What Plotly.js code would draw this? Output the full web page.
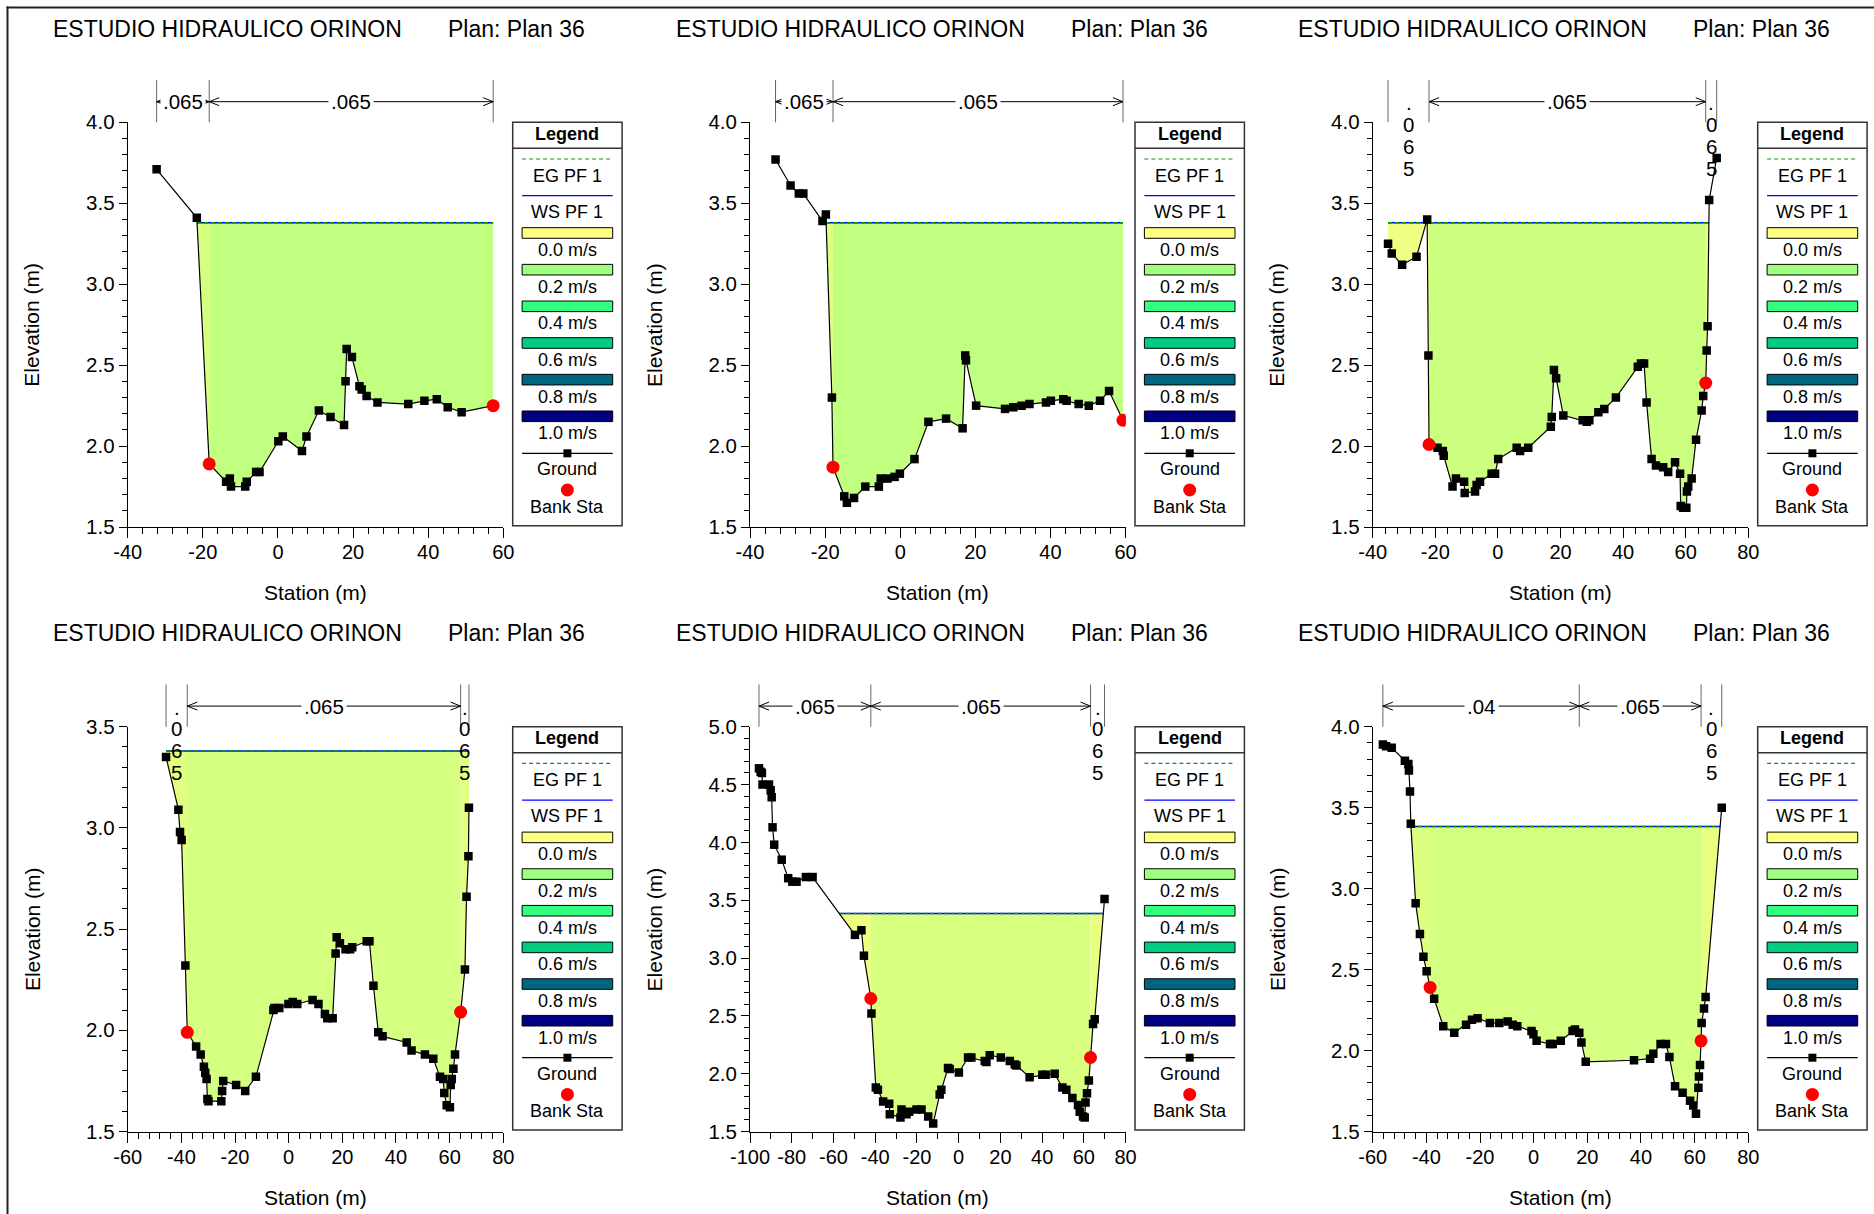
<!DOCTYPE html>
<html><head><meta charset="utf-8">
<script src="https://cdn.plot.ly/plotly-3.0.1.min.js"></script>
<style>html,body{margin:0;padding:0;background:#fff}#chart{width:1874px;height:1214px}</style>
</head><body><div id="chart"></div>
<script>
// ================= DATA =================
const titleText = "ESTUDIO HIDRAULICO ORINON";
const planText = "Plan: Plan 36";
const xAxisTitle = "Station (m)";
const yAxisTitle = "Elevation (m)";
const legendHeader = "Legend";
const legendLabels = ["EG PF 1", "WS PF 1", "0.0 m/s", "0.2 m/s", "0.4 m/s", "0.6 m/s", "0.8 m/s", "1.0 m/s", "Ground", "Bank Sta"];

// Panel 1 (station, elevation)
const p1Ground = [[-32.3,3.71],[-21.6,3.41],[-18.3,1.89],[-13.8,1.78],[-12.8,1.80],[-12.5,1.75],[-8.7,1.75],[-8.3,1.78],[-5.8,1.84],[-4.9,1.84],[0.1,2.03],[1.3,2.06],[6.4,1.97],[7.6,2.06],[10.9,2.22],[14.0,2.18],[17.6,2.13],[18.0,2.40],[18.3,2.60],[19.7,2.55],[21.7,2.37],[22.3,2.35],[23.6,2.31],[26.5,2.27],[34.7,2.26],[39.0,2.28],[42.3,2.29],[45.2,2.24],[48.9,2.21],[57.3,2.25]];
const p1Banks = [-18.3, 57.3];
const p1WS = 3.38;
const p1NSta = [-32.3, -18.3, 57.3];
const p1NVal = [".065", ".065"];
const p1XRange = [-40, 60], p1YRange = [1.5, 4.0];

// Panel 2
const p2Ground = [[-33.2,3.77],[-29.2,3.61],[-27.0,3.56],[-25.8,3.56],[-20.7,3.39],[-19.8,3.43],[-18.2,2.30],[-17.9,1.87],[-14.9,1.69],[-14.2,1.65],[-12.3,1.68],[-9.3,1.75],[-5.7,1.75],[-5.2,1.80],[-3.4,1.80],[-1.5,1.81],[-0.1,1.83],[3.8,1.92],[7.5,2.15],[12.2,2.17],[16.6,2.11],[17.3,2.56],[17.5,2.53],[20.2,2.25],[27.9,2.23],[30.1,2.24],[32.3,2.25],[34.4,2.26],[38.8,2.27],[40.1,2.28],[43.4,2.29],[44.3,2.28],[47.5,2.26],[50.2,2.25],[53.2,2.28],[55.6,2.34],[59.3,2.16]];
const p2Banks = [-17.9, 59.3];
const p2WS = 3.38;
const p2NSta = [-33.2, -17.9, 59.3];
const p2NVal = [".065", ".065"];
const p2XRange = [-40, 60], p2YRange = [1.5, 4.0];

// Panel 3
const p3Ground = [[-35.1,3.25],[-33.9,3.19],[-30.6,3.12],[-26.0,3.17],[-22.6,3.40],[-22.2,2.56],[-22.0,2.01],[-19.3,1.99],[-17.6,1.97],[-17.3,1.94],[-14.5,1.75],[-13.4,1.80],[-10.8,1.78],[-10.6,1.71],[-7.3,1.72],[-6.8,1.76],[-5.7,1.78],[-2.0,1.83],[-0.9,1.83],[0.1,1.92],[6.0,1.99],[7.1,1.97],[9.7,1.99],[16.9,2.12],[17.2,2.18],[17.9,2.47],[18.6,2.42],[20.9,2.19],[27.1,2.16],[28.4,2.15],[29.2,2.16],[32.1,2.21],[34.0,2.23],[37.7,2.30],[44.7,2.49],[45.7,2.51],[46.7,2.51],[47.5,2.27],[49.1,1.92],[50.5,1.88],[52.8,1.87],[54.4,1.84],[56.6,1.90],[58.2,1.83],[58.4,1.63],[59.2,1.62],[60.2,1.62],[60.4,1.72],[60.8,1.75],[61.9,1.80],[63.3,2.04],[65.1,2.22],[65.6,2.31],[66.4,2.39],[66.7,2.59],[67.0,2.74],[67.5,3.52],[69.9,3.78]];
const p3Banks = [-22.0, 66.4];
const p3WS = 3.38;
const p3NSta = [-35.1, -22.0, 66.4, 69.9];
const p3NVal = [".065", ".065", ".065"];
const p3XRange = [-40, 80], p3YRange = [1.5, 4.0];

// Panel 4
const p4Ground = [[-45.7,3.35],[-41.1,3.09],[-40.5,2.98],[-39.9,2.94],[-38.5,2.32],[-37.8,1.99],[-34.5,1.92],[-32.8,1.88],[-31.6,1.82],[-31.1,1.79],[-30.6,1.76],[-30.3,1.66],[-29.9,1.65],[-25.1,1.65],[-24.8,1.70],[-24.4,1.75],[-19.6,1.73],[-16.2,1.70],[-12.2,1.77],[-5.7,2.10],[-5.3,2.11],[-3.5,2.11],[-0.1,2.13],[1.5,2.14],[3.2,2.13],[8.9,2.15],[11.1,2.13],[13.5,2.08],[14.4,2.06],[16.4,2.06],[17.5,2.38],[17.9,2.46],[19.1,2.43],[21.2,2.40],[22.9,2.40],[23.7,2.41],[29.1,2.44],[30.1,2.44],[31.6,2.22],[33.4,1.99],[35.0,1.97],[44.0,1.94],[45.8,1.90],[50.8,1.88],[53.9,1.86],[56.4,1.77],[57.6,1.76],[58.0,1.69],[58.9,1.63],[60.1,1.62],[60.4,1.73],[60.8,1.76],[61.4,1.81],[62.0,1.88],[64.1,2.09],[65.7,2.30],[66.3,2.66],[67.0,2.86],[67.2,3.10]];
const p4Banks = [-37.8, 64.1];
const p4WS = 3.38;
const p4NSta = [-45.7, -37.8, 64.1, 67.2];
const p4NVal = [".065", ".065", ".065"];
const p4XRange = [-60, 80], p4YRange = [1.5, 3.5];

// Panel 5
const p5Ground = [[-95.7,4.64],[-94.9,4.61],[-94.3,4.60],[-94.0,4.50],[-90.9,4.50],[-90.1,4.45],[-89.6,4.39],[-89.2,4.13],[-88.4,3.98],[-84.8,3.85],[-81.7,3.69],[-79.7,3.66],[-77.7,3.66],[-73.2,3.70],[-70.0,3.70],[-49.7,3.20],[-46.6,3.24],[-45.4,3.02],[-42.1,2.65],[-41.8,2.52],[-39.7,1.88],[-38.7,1.86],[-36.2,1.76],[-33.3,1.74],[-33.0,1.65],[-27.9,1.62],[-27.4,1.69],[-25.0,1.65],[-23.7,1.67],[-20.2,1.69],[-17.8,1.69],[-14.6,1.63],[-12.2,1.57],[-9.1,1.82],[-8.3,1.86],[-5.1,2.05],[-4.3,2.04],[0.1,2.01],[4.5,2.14],[6.1,2.14],[12.5,2.11],[13.3,2.10],[14.9,2.16],[20.2,2.14],[24.5,2.11],[26.9,2.08],[27.7,2.07],[34.0,1.97],[40.1,1.99],[41.7,1.99],[46.0,2.00],[49.7,1.88],[51.6,1.86],[54.5,1.79],[57.2,1.73],[58.0,1.67],[59.6,1.63],[60.4,1.62],[60.8,1.75],[61.5,1.83],[62.4,1.94],[63.2,2.14],[64.4,2.43],[65.2,2.47],[69.9,3.51]];
const p5Banks = [-42.1, 63.2];
const p5WS = 3.385;
const p5NSta = [-95.7, -42.1, 63.2, 69.9];
const p5NVal = [".065", ".065", ".065"];
const p5XRange = [-100, 80], p5YRange = [1.5, 5.0];

// Panel 6
const p6Ground = [[-56.2,3.89],[-55.0,3.88],[-52.9,3.87],[-48.0,3.79],[-46.7,3.77],[-46.5,3.73],[-46.1,3.60],[-45.8,3.40],[-44.0,2.91],[-42.4,2.72],[-41.1,2.58],[-39.9,2.49],[-38.6,2.39],[-37.1,2.32],[-33.7,2.15],[-29.6,2.11],[-25.2,2.16],[-23.0,2.19],[-20.9,2.20],[-16.3,2.17],[-12.8,2.17],[-9.7,2.18],[-7.8,2.16],[-6.1,2.15],[-0.8,2.12],[-0.1,2.10],[1.1,2.06],[6.1,2.04],[7.1,2.04],[10.1,2.06],[14.5,2.12],[15.4,2.13],[17.0,2.11],[17.8,2.05],[19.4,1.93],[37.4,1.94],[43.4,1.95],[44.6,1.98],[47.3,2.04],[49.3,2.04],[50.6,1.96],[52.7,1.78],[55.5,1.74],[58.3,1.69],[59.5,1.66],[60.5,1.61],[61.4,1.77],[61.6,1.84],[62.0,1.91],[62.4,2.06],[62.6,2.17],[63.5,2.26],[64.1,2.33],[70.1,3.50]];
const p6Banks = [-38.6, 62.4];
const p6WS = 3.384;
const p6NSta = [-56.2, 17.0, 62.4, 70.1];
const p6NVal = [".04", ".065", ".065"];
const p6XRange = [-60, 80], p6YRange = [1.5, 4.0];

// ================= STYLE / LAYOUT =================
const FONT = "Liberation Sans, Arial, sans-serif";
const W = 1874, H = 1214;
const px2x = p => p / W;
const px2y = p => 1 - p / H;
const colLeft = [127.7, 750.0, 1372.7];
const rowTop = [122.3, 726.7];
const plotW = 375.6, plotH = 404.8;
const velColors = ['#ffff80', '#a0ff80', '#33ff80', '#00cc80', '#006680', '#000080'];
const panelStyle = [
  {fills: ['#d6ff80', '#c0ff80', '#d6ff80'], xMinor: 4},
  {fills: ['#dcff80', '#c0ff80', '#dcff80'], xMinor: 4},
  {fills: ['#eeff84', '#ccff80', '#e6ff80'], xMinor: 4},
  {fills: ['#e2ff80', '#d4ff80', '#e2ff80'], xMinor: 4},
  {fills: ['#eeff80', '#d8ff80', '#e8ff80'], xMinor: 10},
  {fills: ['#dcff80', '#d4ff80', '#e6ff80'], xMinor: 4}
];
const panels = [
  {g: p1Ground, banks: p1Banks, ws: p1WS, nSta: p1NSta, nVal: p1NVal, xr: p1XRange, yr: p1YRange},
  {g: p2Ground, banks: p2Banks, ws: p2WS, nSta: p2NSta, nVal: p2NVal, xr: p2XRange, yr: p2YRange},
  {g: p3Ground, banks: p3Banks, ws: p3WS, nSta: p3NSta, nVal: p3NVal, xr: p3XRange, yr: p3YRange},
  {g: p4Ground, banks: p4Banks, ws: p4WS, nSta: p4NSta, nVal: p4NVal, xr: p4XRange, yr: p4YRange},
  {g: p5Ground, banks: p5Banks, ws: p5WS, nSta: p5NSta, nVal: p5NVal, xr: p5XRange, yr: p5YRange},
  {g: p6Ground, banks: p6Banks, ws: p6WS, nSta: p6NSta, nVal: p6NVal, xr: p6XRange, yr: p6YRange}
];

function interpY(gx, gy, x) {
  if (x <= gx[0]) return gy[0];
  for (let i = 0; i < gx.length - 1; i++) {
    if (x >= gx[i] && x <= gx[i + 1]) {
      const dx = gx[i + 1] - gx[i];
      if (dx === 0) return gy[i + 1];
      return gy[i] + (gy[i + 1] - gy[i]) * (x - gx[i]) / dx;
    }
  }
  return gy[gy.length - 1];
}
function wetPolygon(gx, gy, ws, a, b) {
  const px = [], py = [];
  const add = (x, y) => { px.push(x); py.push(Math.min(y, ws)); };
  add(a, interpY(gx, gy, a));
  for (let i = 0; i < gx.length; i++) {
    if (gx[i] > a && gx[i] < b) add(gx[i], gy[i]);
    if (i < gx.length - 1) {
      const y0 = gy[i], y1 = gy[i + 1];
      if ((y0 - ws) * (y1 - ws) < 0) {
        const xc = gx[i] + (ws - y0) / (y1 - y0) * (gx[i + 1] - gx[i]);
        if (xc > a && xc < b) add(xc, ws);
      }
    }
  }
  add(b, interpY(gx, gy, b));
  px.push(b, a, a); py.push(ws, ws, py[0]);
  return {x: px, y: py};
}
function wetExtent(gx, gy, ws) {
  let lo = Infinity, hi = -Infinity;
  for (let i = 0; i < gx.length; i++) {
    if (gy[i] < ws) { lo = Math.min(lo, gx[i]); hi = Math.max(hi, gx[i]); }
    if (i < gx.length - 1 && (gy[i] - ws) * (gy[i + 1] - ws) < 0) {
      const xc = gx[i] + (ws - gy[i]) / (gy[i + 1] - gy[i]) * (gx[i + 1] - gx[i]);
      lo = Math.min(lo, xc); hi = Math.max(hi, xc);
    }
  }
  return [lo, hi];
}
function textW(s, size) {
  let w = 0;
  for (const c of s) w += (c === '.' ? 0.278 : 0.556);
  return w * size;
}
// tick values from an axis range and step; labels use a plain hyphen minus
function tickList(range, step) {
  const out = [];
  const n0 = Math.ceil(range[0] / step - 1e-9), n1 = Math.floor(range[1] / step + 1e-9);
  for (let n = n0; n <= n1; n++) out.push(Math.round(n * step * 1000) / 1000);
  return out;
}

const traces = [], shapes = [], annotations = [];
const layout = {
  width: W, height: H, margin: {l: 0, r: 0, t: 0, b: 0, pad: 0},
  paper_bgcolor: '#fff', plot_bgcolor: '#fff', showlegend: false,
  font: {family: FONT, size: 20, color: '#000'},
  shapes: shapes, annotations: annotations
};
const txt = (o) => Object.assign({showarrow: false, xref: 'paper', yref: 'paper', font: {family: FONT, size: 20, color: '#000'}}, o);

panels.forEach((p, i) => {
  const k = i + 1;
  const sfx = k === 1 ? '' : String(k);
  const xa = 'x' + sfx, ya = 'y' + sfx;
  const col = i % 3, row = Math.floor(i / 3);
  const left = colLeft[col], top = rowTop[row];
  const st = panelStyle[i];
  const gx = p.g.map(d => d[0]), gy = p.g.map(d => d[1]);

  const xt = tickList(p.xr, 20), yt = tickList(p.yr, 0.5);
  layout['xaxis' + sfx] = {
    domain: [px2x(left), px2x(left + plotW)], anchor: ya, range: p.xr, fixedrange: true,
    showline: true, linecolor: '#000', linewidth: 1, mirror: false,
    ticks: 'outside', ticklen: 10, tickwidth: 1, tickcolor: '#000',
    tickmode: 'array', tickvals: xt, ticktext: xt.map(v => String(v)), ticklabelstandoff: -3,
    minor: {tickmode: 'linear', dtick: st.xMinor, tick0: 0, ticks: 'outside', ticklen: 6, tickwidth: 1, tickcolor: '#000', showgrid: false},
    showgrid: false, zeroline: false, tickfont: {family: FONT, size: 20, color: '#000'}
  };
  layout['yaxis' + sfx] = {
    domain: [px2y(top + plotH), px2y(top)], anchor: xa, range: p.yr, fixedrange: true,
    showline: true, linecolor: '#000', linewidth: 1, mirror: false,
    ticks: 'outside', ticklen: 8, tickwidth: 1, tickcolor: '#000',
    tickmode: 'array', tickvals: yt, ticktext: yt.map(v => v.toFixed(1)),
    minor: {tickmode: 'linear', dtick: 0.1, tick0: 0, ticks: 'outside', ticklen: 5, tickwidth: 1, tickcolor: '#000', showgrid: false},
    showgrid: false, zeroline: false, tickfont: {family: FONT, size: 20.5, color: '#000'}
  };

  // wetted area, coloured by subsection
  const subs = [[gx[0], p.banks[0]], [p.banks[0], p.banks[1]], [p.banks[1], gx[gx.length - 1]]];
  subs.forEach((s, j) => {
    if (s[1] - s[0] < 1e-6) return;
    const poly = wetPolygon(gx, gy, p.ws, s[0], s[1]);
    traces.push({x: poly.x, y: poly.y, xaxis: xa, yaxis: ya, type: 'scatter', mode: 'lines',
      line: {width: 0}, fill: 'toself', fillcolor: st.fills[j], hoverinfo: 'skip', showlegend: false});
  });
  const ext = wetExtent(gx, gy, p.ws);
  traces.push({x: ext, y: [p.ws, p.ws], xaxis: xa, yaxis: ya, type: 'scatter', mode: 'lines',
    line: {color: '#0000ff', width: 1.5}, hoverinfo: 'skip', showlegend: false});
  traces.push({x: ext, y: [p.ws, p.ws], xaxis: xa, yaxis: ya, type: 'scatter', mode: 'lines',
    line: {color: '#00a000', width: 1.5, dash: '4px,3px'}, hoverinfo: 'skip', showlegend: false});
  traces.push({x: gx, y: gy, xaxis: xa, yaxis: ya, type: 'scatter', mode: 'lines+markers',
    line: {color: '#000', width: 1.2}, marker: {symbol: 'square', size: 8.5, color: '#000'}, hoverinfo: 'skip', showlegend: false});
  traces.push({x: p.banks, y: p.banks.map(b => interpY(gx, gy, b)), xaxis: xa, yaxis: ya, type: 'scatter', mode: 'markers',
    marker: {symbol: 'circle', size: 13, color: '#ff0000'}, hoverinfo: 'skip', showlegend: false});

  // titles
  annotations.push(txt({x: px2x(left - 76.5), y: px2y(top - 93.6), text: titleText, xanchor: 'left', yanchor: 'middle', font: {family: FONT, size: 23, color: '#000'}}));
  annotations.push(txt({x: px2x(left + 318.5), y: px2y(top - 93.6), text: planText, xanchor: 'left', yanchor: 'middle', font: {family: FONT, size: 23, color: '#000'}}));
  annotations.push(txt({x: px2x(left + plotW / 2), y: px2y(top + plotH + 65.5), text: xAxisTitle, xanchor: 'center', yanchor: 'middle', font: {family: FONT, size: 21, color: '#000'}}));
  annotations.push(txt({x: px2x(left - 95.7), y: px2y(top + plotH / 2), text: yAxisTitle, xanchor: 'center', yanchor: 'middle', textangle: -90, font: {family: FONT, size: 21, color: '#000'}}));

  // Manning's n labels above the plot
  const arrowY = top - 20.6;
  const unitPx = plotW / (p.xr[1] - p.xr[0]);
  p.nSta.forEach(s => shapes.push({type: 'line', xref: xa, yref: 'paper', x0: s, x1: s,
    y0: px2y(top), y1: px2y(top - 42.3), line: {color: '#666', width: 1}}));
  for (let j = 0; j < p.nVal.length; j++) {
    const a = p.nSta[j], b = p.nSta[j + 1], lab = p.nVal[j];
    const segPx = (b - a) * unitPx, tw = textW(lab, 20), mid = (a + b) / 2;
    if (segPx < tw + 6) {
      lab.split('').forEach((ch, c) => annotations.push({xref: xa, yref: 'paper', x: mid, y: px2y(arrowY + 1 + c * 21.8),
        text: ch, showarrow: false, xanchor: 'center', yanchor: 'middle', font: {family: FONT, size: 20.5, color: '#000'}}));
    } else {
      const d = 10 / unitPx, hh = 4;
      shapes.push({type: 'line', xref: xa, yref: 'paper', x0: a, x1: b, y0: px2y(arrowY), y1: px2y(arrowY), line: {color: '#000', width: 1}});
      shapes.push({type: 'path', xref: xa, yref: 'paper', line: {color: '#000', width: 1},
        path: `M ${a + d},${px2y(arrowY - hh)} L ${a},${px2y(arrowY)} L ${a + d},${px2y(arrowY + hh)}`});
      shapes.push({type: 'path', xref: xa, yref: 'paper', line: {color: '#000', width: 1},
        path: `M ${b - d},${px2y(arrowY - hh)} L ${b},${px2y(arrowY)} L ${b - d},${px2y(arrowY + hh)}`});
      annotations.push({xref: xa, yref: 'paper', x: mid, y: px2y(arrowY), text: lab, showarrow: false,
        xanchor: 'center', yanchor: 'middle', bgcolor: '#fff', borderpad: 2, font: {family: FONT, size: 20.5, color: '#000'}});
    }
  }

  // Legend box
  const Lx = left + plotW + 9.4, Ty = top, LW = 109.4, LH = 403.4;
  const cx = Lx + LW / 2;
  shapes.push({type: 'rect', xref: 'paper', yref: 'paper', x0: px2x(Lx), x1: px2x(Lx + LW), y0: px2y(Ty), y1: px2y(Ty + LH), line: {color: '#333', width: 1.5}, fillcolor: 'rgba(0,0,0,0)'});
  shapes.push({type: 'line', xref: 'paper', yref: 'paper', x0: px2x(Lx), x1: px2x(Lx + LW), y0: px2y(Ty + 26), y1: px2y(Ty + 26), line: {color: '#333', width: 1.5}});
  annotations.push(txt({x: px2x(cx), y: px2y(Ty + 11.5), text: '<b>' + legendHeader + '</b>', xanchor: 'center', yanchor: 'middle', font: {family: FONT, size: 18, color: '#000'}}));
  const ix0 = Lx + 9.4, ix1 = Lx + 100;
  shapes.push({type: 'line', xref: 'paper', yref: 'paper', x0: px2x(ix0), x1: px2x(ix1), y0: px2y(Ty + 36.7), y1: px2y(Ty + 36.7), line: {color: '#00a000', width: 1.2, dash: '4px,3px'}});
  annotations.push(txt({x: px2x(cx), y: px2y(Ty + 53.7), text: legendLabels[0], xanchor: 'center', yanchor: 'middle', font: {family: FONT, size: 18, color: '#000'}}));
  shapes.push({type: 'line', xref: 'paper', yref: 'paper', x0: px2x(ix0), x1: px2x(ix1), y0: px2y(Ty + 73.4), y1: px2y(Ty + 73.4), line: {color: '#0000ff', width: 1.2}});
  annotations.push(txt({x: px2x(cx), y: px2y(Ty + 89.4), text: legendLabels[1], xanchor: 'center', yanchor: 'middle', font: {family: FONT, size: 18, color: '#000'}}));
  velColors.forEach((c, v) => {
    const ry = Ty + 105.4 + v * 36.66;
    shapes.push({type: 'rect', xref: 'paper', yref: 'paper', x0: px2x(ix0), x1: px2x(ix1), y0: px2y(ry), y1: px2y(ry + 10.6), fillcolor: c, line: {color: '#000', width: 1}});
    annotations.push(txt({x: px2x(cx), y: px2y(ry + 22.3), text: legendLabels[2 + v], xanchor: 'center', yanchor: 'middle', font: {family: FONT, size: 18, color: '#000'}}));
  });
  shapes.push({type: 'line', xref: 'paper', yref: 'paper', x0: px2x(ix0), x1: px2x(ix1), y0: px2y(Ty + 331), y1: px2y(Ty + 331), line: {color: '#000', width: 1.2}});
  shapes.push({type: 'rect', xref: 'paper', yref: 'paper', x0: px2x(cx - 4), x1: px2x(cx + 4), y0: px2y(Ty + 327), y1: px2y(Ty + 335), fillcolor: '#000', line: {width: 0}});
  annotations.push(txt({x: px2x(cx), y: px2y(Ty + 347), text: legendLabels[8], xanchor: 'center', yanchor: 'middle', font: {family: FONT, size: 18, color: '#000'}}));
  shapes.push({type: 'circle', xref: 'paper', yref: 'paper', x0: px2x(cx - 6.5), x1: px2x(cx + 6.5), y0: px2y(Ty + 361.2), y1: px2y(Ty + 374.2), fillcolor: '#ff0000', line: {width: 0}});
  annotations.push(txt({x: px2x(cx), y: px2y(Ty + 384.4), text: legendLabels[9], xanchor: 'center', yanchor: 'middle', font: {family: FONT, size: 18, color: '#000'}}));
});

// outer frame (left and top edges)
shapes.push({type: 'line', xref: 'paper', yref: 'paper', x0: px2x(7.5), x1: px2x(7.5), y0: px2y(6.5), y1: 0, line: {color: '#222', width: 2}});
shapes.push({type: 'line', xref: 'paper', yref: 'paper', x0: px2x(6.5), x1: 1, y0: px2y(7.5), y1: px2y(7.5), line: {color: '#222', width: 2}});

Plotly.newPlot('chart', traces, layout, {displayModeBar: false, staticPlot: true});
</script>
</body></html>
